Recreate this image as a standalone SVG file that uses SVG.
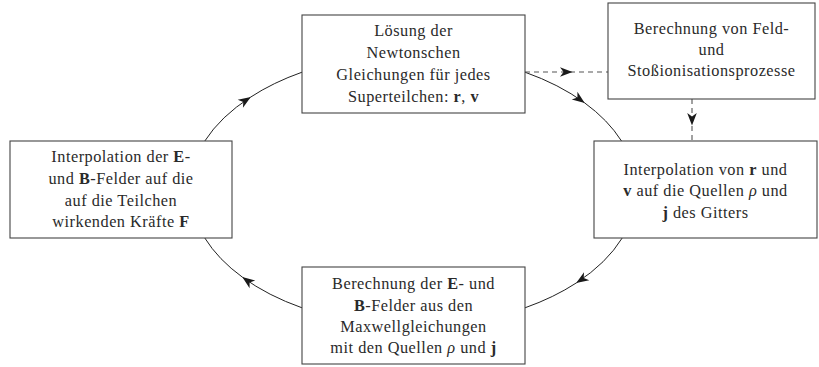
<svg xmlns="http://www.w3.org/2000/svg" width="819" height="367" viewBox="0 0 819 367">
<style>
.box{fill:#fff;stroke:#444;stroke-width:1.1}
.t{font-size:16.3px;letter-spacing:0.5px;fill:#2a2a2a;text-anchor:middle}
.b{font-weight:bold}
.i{font-style:italic}
.con{fill:none;stroke:#222;stroke-width:1}
.dash{fill:none;stroke:#555;stroke-width:1.1;stroke-dasharray:5 4}
</style>
<defs>
<marker id="ah" viewBox="-13 -6 14 12" refX="0" refY="0" markerWidth="14" markerHeight="12" markerUnits="userSpaceOnUse" orient="auto">
<path d="M0.5,0 L-12,-4.8 L-8.5,0 L-12,4.8 z" fill="#1a1a1a"/>
</marker>
</defs>
<g id="connectors">
<path class="con" marker-mid="url(#ah)" d="M204.8,141 A223,136 0 0 1 250.4,97.25 A223,136 0 0 1 302,72.2"/>
<path class="con" marker-mid="url(#ah)" d="M525,72.2 A223,136 0 0 1 584.3,102.6 A223,136 0 0 1 621.5,141"/>
<path class="con" marker-mid="url(#ah)" d="M622.2,238 A223,136 0 0 1 576.6,282.75 A223,136 0 0 1 525,307.8"/>
<path class="con" marker-mid="url(#ah)" d="M302,307.8 A223,136 0 0 1 242.7,277.4 A223,136 0 0 1 204.8,238"/>
<path class="dash" marker-mid="url(#ah)" d="M525,72 L572,72 L608,72"/>
<path class="dash" marker-mid="url(#ah)" d="M692,99 L692,125 L692,141"/>
</g>
<g font-family="Liberation Serif, Times New Roman, serif">
<g id="node-top">
<rect class="box" x="302" y="15" width="223" height="98"/>
<text class="t" x="413.5" y="36">Lösung der</text>
<text class="t" x="413.5" y="58">Newtonschen</text>
<text class="t" x="413.5" y="80">Gleichungen für jedes</text>
<text class="t" x="413.5" y="101.5">Superteilchen: <tspan class="b">r</tspan>, <tspan class="b">v</tspan></text>
</g>
<g id="node-topright">
<rect class="box" x="608" y="3" width="207" height="96"/>
<text class="t" x="711.5" y="34">Berechnung von Feld-</text>
<text class="t" x="711.5" y="55">und</text>
<text class="t" x="711.5" y="76">Stoßionisationsprozesse</text>
</g>
<g id="node-right">
<rect class="box" x="594" y="141" width="223" height="97"/>
<text class="t" x="705.5" y="174.5">Interpolation von <tspan class="b">r</tspan> und</text>
<text class="t" x="705.5" y="196"><tspan class="b">v</tspan> auf die Quellen <tspan class="i">ρ</tspan> und</text>
<text class="t" x="705.5" y="217.5"><tspan class="b">j</tspan> des Gitters</text>
</g>
<g id="node-bottom">
<rect class="box" x="302" y="267" width="223" height="97"/>
<text class="t" x="413.5" y="289">Berechnung der <tspan class="b">E</tspan>- und</text>
<text class="t" x="413.5" y="311"><tspan class="b">B</tspan>-Felder aus den</text>
<text class="t" x="413.5" y="332">Maxwellgleichungen</text>
<text class="t" x="413.5" y="353">mit den Quellen <tspan class="i">ρ</tspan> und <tspan class="b">j</tspan></text>
</g>
<g id="node-left">
<rect class="box" x="10" y="141" width="222" height="97"/>
<text class="t" x="121" y="162">Interpolation der <tspan class="b">E</tspan>-</text>
<text class="t" x="121" y="184">und <tspan class="b">B</tspan>-Felder auf die</text>
<text class="t" x="121" y="205.5">auf die Teilchen</text>
<text class="t" x="121" y="227">wirkenden Kräfte <tspan class="b">F</tspan></text>
</g>
</g>
</svg>
